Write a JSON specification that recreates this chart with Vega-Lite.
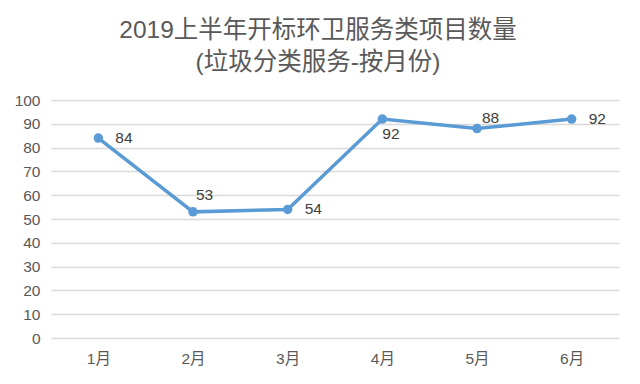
{
  "$schema": "https://vega.github.io/schema/vega-lite/v6.json",
  "autosize": "none",
  "width": 568,
  "height": 238,
  "padding": {"top": 100, "left": 51, "right": 21, "bottom": 46},
  "background": "white",
  "title": {
    "text": ["2019上半年开标环卫服务类项目数量", "(垃圾分类服务-按月份)"],
    "anchor": "middle",
    "dx": -17,
    "offset": 18,
    "fontSize": 24.5,
    "fontWeight": "normal",
    "lineHeight": 32,
    "color": "#595959",
    "font": "Liberation Sans, Noto Sans CJK SC"
  },
  "data": {
    "values": [
      {"month": "1月", "count": 84},
      {"month": "2月", "count": 53},
      {"month": "3月", "count": 54},
      {"month": "4月", "count": 92},
      {"month": "5月", "count": 88},
      {"month": "6月", "count": 92}
    ]
  },
  "config": {
    "view": {"stroke": null},
    "font": "Liberation Sans, Noto Sans CJK SC",
    "axis": {"labelFont": "Liberation Sans, Noto Sans CJK SC"}
  },
  "encoding": {
    "x": {
      "field": "month", "type": "ordinal", "sort": null,
      "scale": {"type": "point", "padding": 0.5},
      "axis": {"title": null, "domain": false, "ticks": false, "grid": false, "labelAngle": 0,
               "labelFontSize": 15.5, "labelColor": "#595959", "labelPadding": 13}
    },
    "y": {
      "field": "count", "type": "quantitative",
      "scale": {"domain": [0, 100], "nice": false},
      "axis": {"title": null, "domain": false, "ticks": false, "values": [0,10,20,30,40,50,60,70,80,90,100],
               "gridColor": "#D9D9D9", "gridWidth": 1.3, "labelFontSize": 15.5, "labelColor": "#595959", "labelPadding": 11}
    }
  },
  "layer": [
    {"mark": {"type": "line", "color": "#5B9BD5", "strokeWidth": 3.5}},
    {"mark": {"type": "point", "filled": true, "opacity": 1, "color": "#5B9BD5", "size": 90}},
    {
      "transform": [{"filter": "indexof(['1月','3月','6月'], datum.month) >= 0"}],
      "mark": {"type": "text", "align": "left", "baseline": "middle", "dx": 17, "fontSize": 15.5, "color": "#404040"},
      "encoding": {"text": {"field": "count"}}
    },
    {
      "transform": [{"filter": "datum.month == '2月'"}],
      "mark": {"type": "text", "align": "left", "baseline": "middle", "dx": 3, "dy": -17, "fontSize": 15.5, "color": "#404040"},
      "encoding": {"text": {"field": "count"}}
    },
    {
      "transform": [{"filter": "datum.month == '4月'"}],
      "mark": {"type": "text", "align": "left", "baseline": "middle", "dx": 0, "dy": 15, "fontSize": 15.5, "color": "#404040"},
      "encoding": {"text": {"field": "count"}}
    },
    {
      "transform": [{"filter": "datum.month == '5月'"}],
      "mark": {"type": "text", "align": "left", "baseline": "middle", "dx": 5, "dy": -11, "fontSize": 15.5, "color": "#404040"},
      "encoding": {"text": {"field": "count"}}
    }
  ]
}
